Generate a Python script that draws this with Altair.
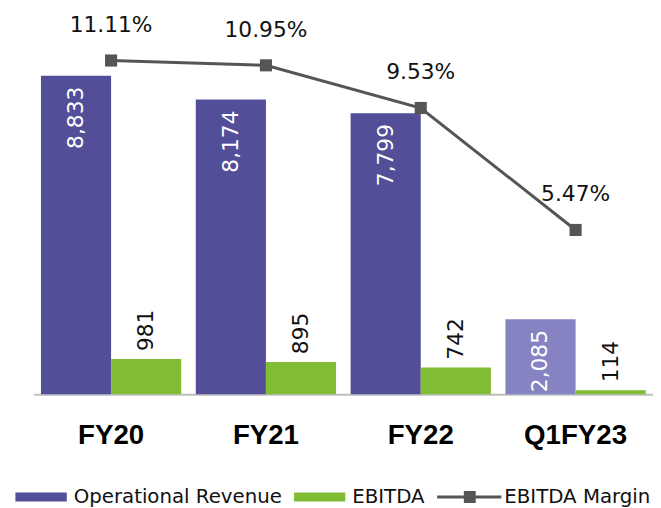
import altair as alt
import pandas as pd

categories = ["FY20", "FY21", "FY22", "Q1FY23"]
revenue = [8833, 8174, 7799, 2085]
ebitda = [981, 895, 742, 114]
margin = [11.11, 10.95, 9.53, 5.47]
series_names = ["Operational Revenue", "EBITDA", "EBITDA Margin"]

PURPLE = "#524F98"
LIGHT = "#8683C2"
GREEN = "#80BD35"
GRAY = "#555555"
FONT = "DejaVu Sans"
AXFONT = "Liberation Sans"

bars_df = pd.DataFrame({
    "category": categories * 2,
    "series": [series_names[0]] * len(categories) + [series_names[1]] * len(categories),
    "value": revenue + ebitda,
})
line_df = pd.DataFrame({"category": categories, "margin": margin,
                        "series": [series_names[2]] * len(categories)})
legend_df = pd.DataFrame({"series": series_names})

x = alt.X(
    "category:N", sort=categories,
    scale=alt.Scale(paddingInner=0.094, paddingOuter=0.047),
    axis=alt.Axis(title=None, labelAngle=0, ticks=False, labelFont=AXFONT,
                  labelFontWeight="bold", labelFontSize=28, labelColor="#000000",
                  labelPadding=28, domainColor="#BFBFBF", domainWidth=2, grid=False),
)
color_scale = alt.Scale(domain=series_names, range=[PURPLE, GREEN, GRAY])

p_rect = "M-2.6,-0.45L2.6,-0.45L2.6,0.45L-2.6,0.45Z"
p_line = "M-3.5,-0.15L3.0,-0.15L3.0,0.15L-3.5,0.15Z M-0.8,-0.6L0.4,-0.6L0.4,0.6L-0.8,0.6Z"
shape_scale = alt.Scale(domain=series_names, range=[p_rect, p_rect, p_line])

leg_props = dict(
    orient="none", legendX=-2.5, legendY=459, direction="horizontal", title=None,
    labelFont=FONT, labelFontSize=20, labelColor="#111111", symbolSize=400,
    symbolStrokeWidth=0, symbolOpacity=1, labelOffset=23, columnPadding=12,
    labelLimit=0,
)

base_b = alt.Chart(bars_df).encode(
    x=x,
    xOffset=alt.XOffset("series:N", sort=series_names[:2],
                        scale=alt.Scale(paddingInner=0, paddingOuter=0)),
    y=alt.Y("value:Q", scale=alt.Scale(domain=[0, 10000]), axis=None),
)
bars = base_b.mark_bar().encode(
    color=alt.condition(
        (alt.datum.category == "Q1FY23") & (alt.datum.series == "Operational Revenue"),
        alt.value(LIGHT),
        alt.Color("series:N", scale=color_scale, legend=alt.Legend(**leg_props)),
    )
)
rev_text = base_b.transform_filter(alt.datum.series == series_names[0]).mark_text(
    angle=270, align="right", baseline="middle", dx=-11, color="white",
    font=FONT, fontSize=22
).encode(text=alt.Text("value:Q", format=","))
eb_text = base_b.transform_filter(alt.datum.series == series_names[1]).mark_text(
    angle=270, align="left", baseline="middle", dx=8, color="#111111",
    font=FONT, fontSize=22
).encode(text=alt.Text("value:Q", format=","))

leg = alt.Chart(legend_df).mark_point(filled=True, size=0).encode(
    color=alt.Color("series:N", scale=color_scale, legend=alt.Legend(**leg_props)),
    shape=alt.Shape("series:N", scale=shape_scale, legend=alt.Legend(**leg_props)),
)

base_l = alt.Chart(line_df).encode(
    x=x,
    y=alt.Y("margin:Q", scale=alt.Scale(domain=[0, 12]), axis=None),
)
line = base_l.mark_line(color=GRAY, strokeWidth=3)
pts = base_l.mark_point(shape="square", filled=True, size=150, color=GRAY, opacity=1)
lbl = base_l.transform_calculate(
    label="format(datum.margin, '.2f') + '%'"
).mark_text(dy=-36, baseline="middle", align="center", font=FONT, fontSize=22,
            color="#111111").encode(text="label:N")

chart = alt.layer(
    alt.layer(bars, rev_text, eb_text, leg),
    alt.layer(line, pts, lbl),
).resolve_scale(y="independent").properties(
    width=627, height=365,
    autosize=alt.AutoSizeParams(type="none"),
    padding={"left": 26, "top": 23, "right": 0, "bottom": 112},
    background="white",
).configure_view(stroke=None)

chart.save("out.html", embed_options={"renderer": "svg", "actions": False})
